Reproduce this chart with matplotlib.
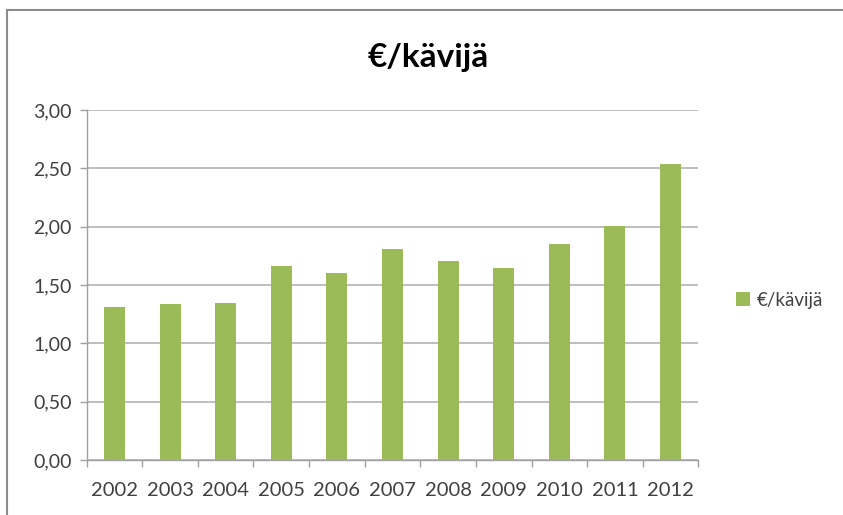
import matplotlib.pyplot as plt
import numpy as np
from matplotlib.lines import Line2D

# values
years = ['2002', '2003', '2004', '2005', '2006', '2007', '2008', '2009', '2010', '2011', '2012']
eur_per_visitor = [1.31, 1.34, 1.35, 1.66, 1.60, 1.81, 1.71, 1.65, 1.85, 2.01, 2.54]
y_ticks = [0, 0.5, 1.0, 1.5, 2.0, 2.5, 3.0]
series_name = '€/kävijä'

plt.rcParams['font.family'] = ['Lato', 'DejaVu Sans']

fig = plt.figure(figsize=(8.43, 5.15), dpi=100)
ax = fig.add_axes([0.1028, 0.1068, 0.7256, 0.6796])

x = np.arange(len(years))
ax.bar(x, eur_per_visitor, width=0.38, color='#9BBB59', zorder=3, label=series_name)

ax.set_xlim(-0.5, len(years) - 0.5)
ax.set_ylim(0, 3.0)
ax.set_yticks(y_ticks)
ax.set_yticklabels([f'{v:.2f}'.replace('.', ',') for v in y_ticks], fontsize=14, color='#404040')
ax.yaxis.grid(True, color='#b3b3b3', linewidth=1.2, zorder=0)

# category labels centred, tick marks on the boundaries
ax.set_xticks(x)
ax.set_xticklabels(years, fontsize=14.5, color='#404040')
ax.tick_params(axis='x', length=0, pad=16)
ax.set_xticks(np.arange(-0.5, len(years)), minor=True)
ax.tick_params(axis='x', which='minor', length=5, color='#a0a0a0', width=1)
ax.tick_params(axis='y', length=5, color='#a0a0a0', width=1, pad=6)

for side in ['top', 'right']:
    ax.spines[side].set_visible(False)
for side in ['left', 'bottom']:
    ax.spines[side].set_color('#a0a0a0')
    ax.spines[side].set_linewidth(1)

fig.text(0.508, 1 - 58 / 515, series_name, fontsize=24, fontweight='bold', ha='center', va='center')

leg = ax.legend(loc='center left', bbox_to_anchor=(1.05, (460 - 300) / 350),
                frameon=False, fontsize=13.5, handlelength=0.7, handleheight=0.7,
                handletextpad=0.4, borderaxespad=0)
for t in leg.get_texts():
    t.set_color('#404040')

# chart border on top and left edge
fig.add_artist(Line2D([7 / 843, 1], [1 - 10 / 515, 1 - 10 / 515], color='#8c8c8c', linewidth=1.5))
fig.add_artist(Line2D([7 / 843, 7 / 843], [0, 1 - 10 / 515], color='#8c8c8c', linewidth=1.5))

fig.savefig('out.png', dpi=100)
